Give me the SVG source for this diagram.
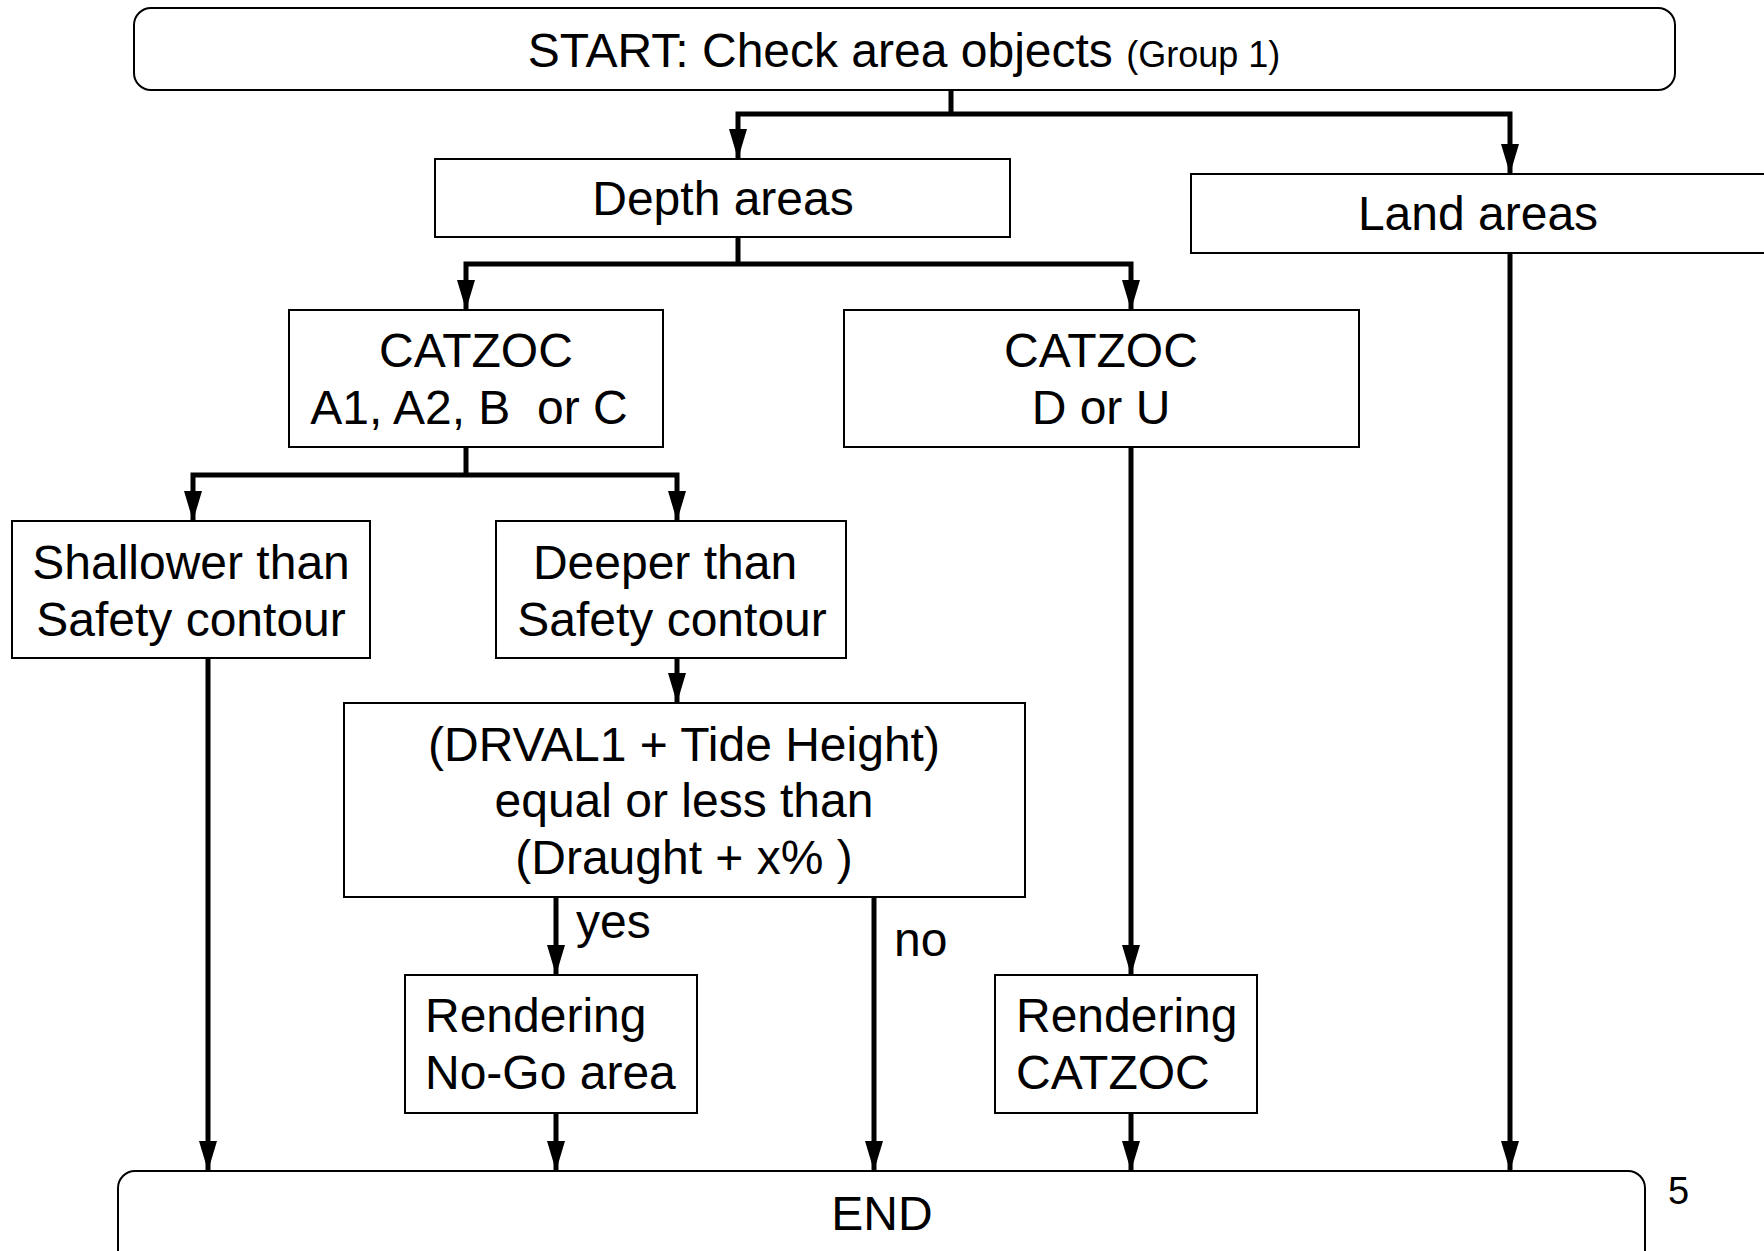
<svg xmlns="http://www.w3.org/2000/svg" width="1764" height="1251" viewBox="0 0 1764 1251">
<style>
.box{fill:#fff;stroke:#000;stroke-width:2}
.t{font-family:"Liberation Sans",Arial,sans-serif;font-size:48px;fill:#000}
.c{text-anchor:middle}
.s{font-size:36px}
.ln{fill:none;stroke:#000;stroke-width:5}
</style>
<defs>
<marker id="ah" markerUnits="userSpaceOnUse" markerWidth="30" markerHeight="18" viewBox="0 0 30 18" refX="30" refY="9" orient="auto">
<path d="M0,0 L30,9 L0,18 Z" fill="#000"/>
</marker>
</defs>
<rect width="1764" height="1251" fill="#fff"/>
<g id="connectors">
<path class="ln" d="M951,90 V114"/>
<path class="ln" d="M951,114 H738 V159" marker-end="url(#ah)"/>
<path class="ln" d="M951,114 H1510 V174" marker-end="url(#ah)"/>
<path class="ln" d="M738,237 V264"/>
<path class="ln" d="M738,264 H466 V310" marker-end="url(#ah)"/>
<path class="ln" d="M738,264 H1131 V310" marker-end="url(#ah)"/>
<path class="ln" d="M466,447 V475"/>
<path class="ln" d="M466,475 H193 V521" marker-end="url(#ah)"/>
<path class="ln" d="M466,475 H677 V521" marker-end="url(#ah)"/>
<path class="ln" d="M677,658 V703" marker-end="url(#ah)"/>
<path class="ln" d="M556,897 V975" marker-end="url(#ah)"/>
<path class="ln" d="M874,897 V1171" marker-end="url(#ah)"/>
<path class="ln" d="M556,1113 V1171" marker-end="url(#ah)"/>
<path class="ln" d="M1131,447 V975" marker-end="url(#ah)"/>
<path class="ln" d="M1131,1113 V1171" marker-end="url(#ah)"/>
<path class="ln" d="M208,658 V1171" marker-end="url(#ah)"/>
<path class="ln" d="M1510,253 V1171" marker-end="url(#ah)"/>
<text class="t" x="576" y="938">yes</text>
<text class="t" x="894" y="956">no</text>
</g>
<g id="start">
<rect class="box" x="134" y="8" width="1541" height="82" rx="17"/>
<text class="t c" x="904" y="67">START: Check area objects <tspan class="s">(Group 1)</tspan></text>
</g>
<g id="depth">
<rect class="box" x="435" y="159" width="575" height="78"/>
<text class="t c" x="723" y="215">Depth areas</text>
</g>
<g id="land">
<rect class="box" x="1191" y="174" width="590" height="79"/>
<text class="t c" x="1478" y="230">Land areas</text>
</g>
<g id="catzoc-abc">
<rect class="box" x="289" y="310" width="374" height="137"/>
<text class="t c" x="476" y="367">CATZOC</text>
<text class="t c" x="469" y="424" style="white-space:pre">A1, A2, B  or C</text>
</g>
<g id="catzoc-du">
<rect class="box" x="844" y="310" width="515" height="137"/>
<text class="t c" x="1101" y="367">CATZOC</text>
<text class="t c" x="1101" y="424">D or U</text>
</g>
<g id="shallower">
<rect class="box" x="12" y="521" width="358" height="137"/>
<text class="t c" x="191" y="579">Shallower than</text>
<text class="t c" x="191" y="636">Safety contour</text>
</g>
<g id="deeper">
<rect class="box" x="496" y="521" width="350" height="137"/>
<text class="t c" x="665" y="579">Deeper than</text>
<text class="t c" x="672" y="636">Safety contour</text>
</g>
<g id="drval">
<rect class="box" x="344" y="703" width="681" height="194"/>
<text class="t c" x="684" y="761">(DRVAL1 + Tide Height)</text>
<text class="t c" x="684" y="817">equal or less than</text>
<text class="t c" x="684" y="874">(Draught + x% )</text>
</g>
<g id="nogo">
<rect class="box" x="405" y="975" width="292" height="138"/>
<text class="t" x="425" y="1032">Rendering</text>
<text class="t" x="425" y="1089">No-Go area</text>
</g>
<g id="render-catzoc">
<rect class="box" x="995" y="975" width="262" height="138"/>
<text class="t" x="1016" y="1032">Rendering</text>
<text class="t" x="1016" y="1089">CATZOC</text>
</g>
<g id="end">
<rect class="box" x="118" y="1171" width="1527" height="100" rx="17"/>
<text class="t c" x="882" y="1230">END</text>
</g>
<text class="t" x="1668" y="1204" style="font-size:38px">5</text>
</svg>
